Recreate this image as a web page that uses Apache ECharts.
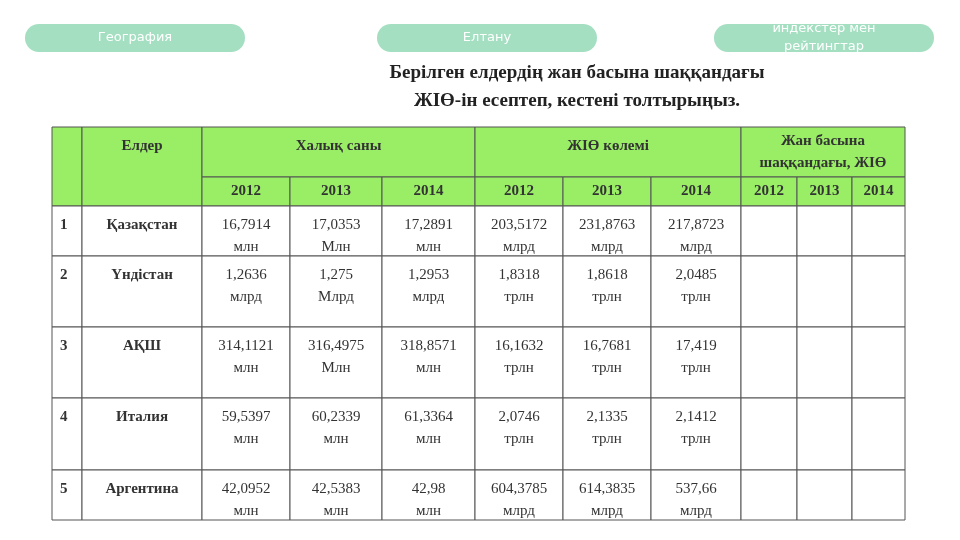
<!DOCTYPE html>
<html><head><meta charset="utf-8">
<script src="https://cdn.jsdelivr.net/npm/echarts@6/dist/echarts.min.js"></script>
<style>html,body{margin:0;background:#fff}#c{width:960px;height:540px}</style>
</head><body><div id="c"></div>
<script>
const tabs = ['География', 'Елтану', 'индекстер мен\nрейтингтар'];
const titleLines = ['Берілген елдердің жан басына шаққандағы', 'ЖІӨ-ін есептеп, кестені толтырыңыз.'];
const groupHeaders = ['Халық саны', 'ЖІӨ көлемі', 'Жан басына\nшаққандағы, ЖІӨ'];
const years = ['2012', '2013', '2014'];
const countries = ['Қазақстан', 'Үндістан', 'АҚШ', 'Италия', 'Аргентина'];
const population = [
  ['16,7914\nмлн', '17,0353\nМлн', '17,2891\nмлн'],
  ['1,2636\nмлрд', '1,275\nМлрд', '1,2953\nмлрд'],
  ['314,1121\nмлн', '316,4975\nМлн', '318,8571\nмлн'],
  ['59,5397\nмлн', '60,2339\nмлн', '61,3364\nмлн'],
  ['42,0952\nмлн', '42,5383\nмлн', '42,98\nмлн']
];
const gdp = [
  ['203,5172\nмлрд', '231,8763\nмлрд', '217,8723\nмлрд'],
  ['1,8318\nтрлн', '1,8618\nтрлн', '2,0485\nтрлн'],
  ['16,1632\nтрлн', '16,7681\nтрлн', '17,419\nтрлн'],
  ['2,0746\nтрлн', '2,1335\nтрлн', '2,1412\nтрлн'],
  ['604,3785\nмлрд', '614,3835\nмлрд', '537,66\nмлрд']
];

const colX = [52, 82, 202, 290, 382, 475, 563, 651, 741, 797, 852, 905];
const rowY = [127, 177, 206, 256, 327, 398, 470, 520];
const green = '#99ee66';
const font = '"Liberation Serif", "DejaVu Serif", serif';
const els = [];

function cell(c0, c1, r0, r1, text, opt) {
  opt = opt || {};
  const x = colX[c0], y = rowY[r0], w = colX[c1] - x, h = rowY[r1] - y;
  els.push({ type: 'rect', shape: { x, y, width: w, height: h },
    style: { fill: opt.fill || '#fff', stroke: '#555', lineWidth: 1 } });
  if (text) {
    const top = opt.top;
    els.push({ type: 'text', x: opt.left ? x + 8 : x + w / 2, y: top ? y + 8 : y + h / 2,
      style: { text, font: (opt.bold ? 'bold ' : '') + '15px ' + font, fill: '#333',
        align: opt.left ? 'left' : 'center', verticalAlign: top ? 'top' : 'middle', lineHeight: 22 } });
  }
}

// header
cell(0, 1, 0, 2, '', { fill: green });
cell(1, 2, 0, 2, 'Елдер', { fill: green, bold: true, top: true });
groupHeaders.forEach((g, i) => cell(2 + i * 3, 5 + i * 3, 0, 1, g, { fill: green, bold: true, top: i < 2 }));
for (let i = 0; i < 9; i++) cell(2 + i, 3 + i, 1, 2, years[i % 3], { fill: green, bold: true });
// body
countries.forEach((name, r) => {
  cell(0, 1, r + 2, r + 3, String(r + 1), { bold: true, top: true, left: true });
  cell(1, 2, r + 2, r + 3, name, { bold: true, top: true });
  population[r].forEach((v, i) => cell(2 + i, 3 + i, r + 2, r + 3, v, { top: true }));
  gdp[r].forEach((v, i) => cell(5 + i, 6 + i, r + 2, r + 3, v, { top: true }));
  for (let i = 0; i < 3; i++) cell(8 + i, 9 + i, r + 2, r + 3, '');
});

// tabs
const tabX = [25, 377, 714];
tabs.forEach((t, i) => {
  els.push({ type: 'rect', shape: { x: tabX[i], y: 24, width: 220, height: 28, r: 14 },
    style: { fill: '#a3dfc0' } });
  els.push({ type: 'text', x: tabX[i] + 110, y: 38,
    style: { text: t, font: '13px "DejaVu Sans", sans-serif', fill: '#fff', align: 'center',
      verticalAlign: 'middle', lineHeight: 18 } });
});
titleLines.forEach((t, i) => els.push({ type: 'text', x: 577, y: 73 + i * 28,
  style: { text: t, font: 'bold 19px ' + font, fill: '#222', align: 'center', verticalAlign: 'middle' } }));

const chart = echarts.init(document.getElementById('c'));
chart.setOption({ graphic: { elements: els } });
</script></body></html>
